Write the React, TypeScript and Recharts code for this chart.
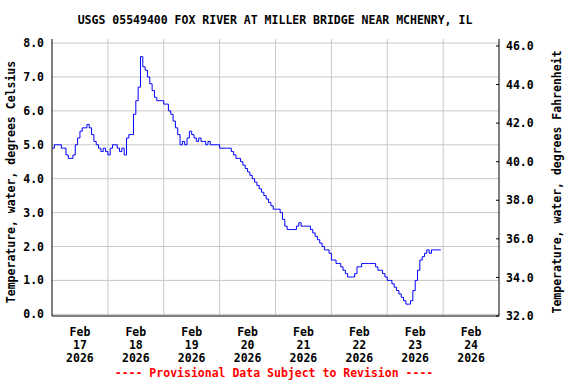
import { LineChart, Line, XAxis, YAxis, CartesianGrid } from 'recharts';

// hourly water temperature (deg C), starting Feb 17 2026 00:00
const tempC = [
  4.9, 5.0, 5.0, 5.0, 4.9, 4.9, 4.7, 4.6, 4.6, 4.7, 5.0, 5.2, 5.4, 5.5, 5.5, 5.6, 5.5, 5.3, 5.1, 5.0, 4.9, 4.8, 4.9, 4.8,
  4.7, 4.9, 5.0, 5.0, 4.9, 4.8, 4.9, 4.7, 5.2, 5.3, 5.3, 5.9, 6.3, 6.7, 7.6, 7.3, 7.2, 7.0, 6.8, 6.6, 6.4, 6.3, 6.3, 6.3,
  6.2, 6.2, 6.0, 5.9, 5.7, 5.5, 5.3, 5.0, 5.1, 5.0, 5.2, 5.4, 5.3, 5.2, 5.1, 5.2, 5.1, 5.1, 5.0, 5.1, 5.0, 5.0, 5.0, 5.0,
  4.9, 4.9, 4.9, 4.9, 4.9, 4.8, 4.7, 4.6, 4.6, 4.5, 4.4, 4.3, 4.2, 4.1, 4.0, 3.9, 3.8, 3.7, 3.6, 3.5, 3.4, 3.3, 3.2, 3.1,
  3.1, 3.1, 3.0, 2.8, 2.6, 2.5, 2.5, 2.5, 2.5, 2.6, 2.7, 2.6, 2.6, 2.6, 2.6, 2.5, 2.4, 2.3, 2.2, 2.1, 2.0, 1.9, 1.9, 1.8,
  1.6, 1.6, 1.5, 1.5, 1.4, 1.3, 1.2, 1.1, 1.1, 1.1, 1.2, 1.4, 1.4, 1.5, 1.5, 1.5, 1.5, 1.5, 1.5, 1.4, 1.3, 1.3, 1.2, 1.1,
  1.0, 1.0, 0.9, 0.8, 0.7, 0.6, 0.5, 0.4, 0.3, 0.3, 0.4, 0.7, 1.0, 1.3, 1.6, 1.7, 1.8, 1.9, 1.8, 1.9, 1.9, 1.9, 1.9, 1.9,
];

const dayLabels = ['17', '18', '19', '20', '21', '22', '23', '24'];
const labelHours = [12, 36, 60, 84, 108, 132, 156, 180];
const midnightHours = [24, 48, 72, 96, 120, 144, 168];
const celsiusTicks = [0, 1, 2, 3, 4, 5, 6, 7, 8];
const fahrenheitTicks = [32, 34, 36, 38, 40, 42, 44, 46];

const data = tempC.map((t, i) => ({ hour: i, temp: t }));

const FONT = "'DejaVu Sans Mono', monospace";
const W = 576;
const H = 384;

const DateTick = ({ x, y, payload }: any) => {
  const idx = labelHours.indexOf(payload.value);
  return (
    <text x={x} textAnchor="middle" fontFamily={FONT} fontWeight="bold" fontSize={11.5} fill="#000">
      <tspan x={x} y={y + 18}>Feb</tspan>
      <tspan x={x} y={y + 31}>{dayLabels[idx]}</tspan>
      <tspan x={x} y={y + 44}>2026</tspan>
    </text>
  );
};

const RightTick = ({ x, y, payload }: any) => (
  <g>
    <line x1={x - 10} x2={x - 7} y1={y} y2={y} stroke="#000" />
    <text x={x} y={y} dy="0.355em" textAnchor="start" fontFamily={FONT} fontWeight="bold" fontSize={11.5} fill="#000">
      {payload.value.toFixed(1)}
    </text>
  </g>
);

export default function App() {
  return (
    <div style={{ position: 'absolute', left: 0, top: 0, width: W, height: H, background: '#fff' }}>
      <LineChart width={W} height={H} data={data} margin={{ top: 39, right: 0, bottom: 0, left: 0 }}>
        <CartesianGrid
          stroke="#c8c8c8"
          yAxisId="left"
          horizontalValues={celsiusTicks}
          verticalValues={midnightHours}
        />
        <XAxis
          dataKey="hour"
          type="number"
          domain={[0, 192]}
          ticks={labelHours}
          tick={<DateTick />}
          tickLine={false}
          tickSize={0}
          height={68}
          axisLine={{ stroke: '#000' }}
          interval={0}
        />
        <XAxis
          xAxisId="top"
          orientation="top"
          dataKey="hour"
          type="number"
          domain={[0, 192]}
          height={0}
          tick={false}
          tickLine={false}
          axisLine={{ stroke: '#000' }}
        />
        <YAxis
          yAxisId="left"
          type="number"
          domain={[-0.05, 8.12]}
          ticks={celsiusTicks}
          allowDataOverflow
          width={52}
          tickLine={false}
          tickSize={0}
          tickMargin={8}
          tickFormatter={(v: number) => v.toFixed(1)}
          tick={{ fontFamily: FONT, fontWeight: 'bold', fontSize: 11.5, fill: '#000' }}
          axisLine={{ stroke: '#000' }}
          interval={0}
        />
        <YAxis
          yAxisId="right"
          orientation="right"
          type="number"
          domain={[32, 46.36]}
          ticks={fahrenheitTicks}
          allowDataOverflow
          width={77}
          tickLine={false}
          tickSize={0}
          tickMargin={7}
          tick={<RightTick />}
          axisLine={{ stroke: '#000' }}
          interval={0}
        />
        <Line
          yAxisId="left"
          type="stepAfter"
          dataKey="temp"
          stroke="#0000ff"
          strokeWidth={1}
          dot={false}
          isAnimationActive={false}
        />
      </LineChart>
      <svg width={W} height={H} style={{ position: 'absolute', left: 0, top: 0, pointerEvents: 'none' }}>
        <text x={275} y={24} textAnchor="middle" fontFamily={FONT} fontWeight="bold" fontSize={11.5} fill="#000">
          USGS 05549400 FOX RIVER AT MILLER BRIDGE NEAR MCHENRY, IL
        </text>
        <text
          transform="translate(15,182) rotate(-90)"
          textAnchor="middle"
          fontFamily={FONT}
          fontWeight="bold"
          fontSize={11.5}
          fill="#000"
        >
          Temperature, water, degrees Celsius
        </text>
        <text
          transform="translate(561,182) rotate(-90)"
          textAnchor="middle"
          fontFamily={FONT}
          fontWeight="bold"
          fontSize={11.5}
          fill="#000"
        >
          Temperature, water, degrees Fahrenheit
        </text>
        <text x={274} y={377} textAnchor="middle" fontFamily={FONT} fontWeight="bold" fontSize={11.5} fill="#ff0000">
          ---- Provisional Data Subject to Revision ----
        </text>
      </svg>
    </div>
  );
}
